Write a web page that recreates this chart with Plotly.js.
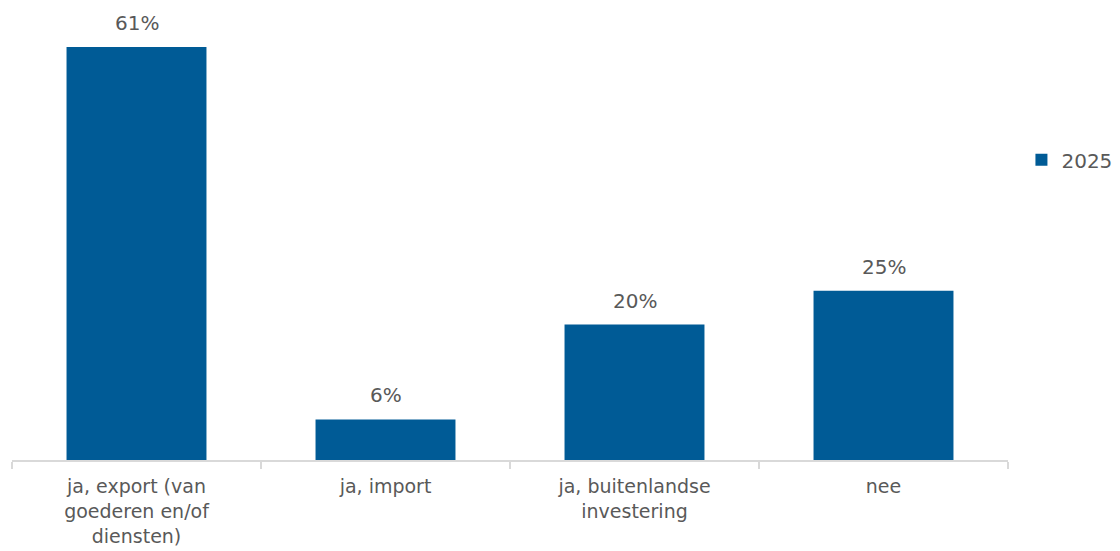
<!DOCTYPE html>
<html>
<head>
<meta charset="utf-8">
<script src="https://cdn.plot.ly/plotly-3.0.1.min.js"></script>
<style>html,body{margin:0;padding:0;background:#fff;}#chart{width:1120px;height:551px;}</style>
</head>
<body>
<div id="chart"></div>
<script>
const categories = ["ja, export (van<br>goederen en/of<br>diensten)", "ja, import", "ja, buitenlandse<br>investering", "nee"];
const values2025 = [61, 6, 20, 25];
const labels2025 = ["61%", "6%", "20%", "25%"];
const seriesName = "2025";

const FONT = "DejaVu Sans, Verdana, sans-serif";
const TXT = "#595959";

const trace = {
  type: "bar",
  x: categories,
  y: values2025,
  name: seriesName,
  marker: {color: "#005b96"},
  hoverinfo: "skip"
};

const annotations = categories.map((c, i) => ({
  x: c, y: values2025[i], xref: "x", yref: "y",
  text: labels2025[i], showarrow: false,
  yanchor: "bottom", yshift: 10,
  font: {family: FONT, size: 20, color: TXT}
}));

const layout = {
  width: 1120, height: 551,
  margin: {l: 12, r: 112, t: 20, b: 91},
  paper_bgcolor: "#ffffff", plot_bgcolor: "#ffffff",
  font: {family: FONT, size: 20, color: TXT},
  bargap: 0.438,
  showlegend: true,
  legend: {xref: "container", yref: "container", x: 0.912, y: 0.71, xanchor: "left", yanchor: "middle",
           font: {size: 20, color: TXT}, itemwidth: 30, bgcolor: "rgba(0,0,0,0)"},
  annotations: annotations,
  xaxis: {
    type: "category",
    showline: true, linecolor: "#d9d9d9", linewidth: 1.5,
    ticks: "outside", tickson: "boundaries", ticklen: 7, tickcolor: "#d9d9d9", tickwidth: 1.5,
    showgrid: false, zeroline: false,
    ticklabelstandoff: 9,
    tickfont: {size: 19, color: TXT}
  },
  yaxis: {range: [0, 65], visible: false, showgrid: false, zeroline: false}
};

Plotly.newPlot("chart", [trace], layout, {displayModeBar: false, staticPlot: true});
</script>
</body>
</html>
